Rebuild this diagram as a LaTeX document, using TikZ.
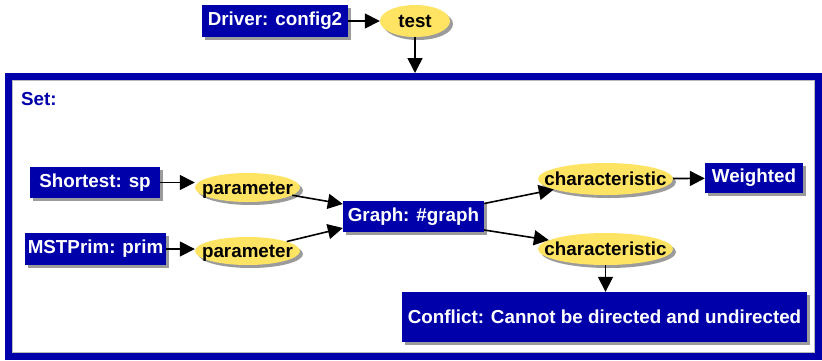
\documentclass[tikz,border=0pt]{standalone}
\usepackage{fontspec}
\setmainfont{Liberation Sans}
\usetikzlibrary{shapes.geometric,arrows.meta,shadows,calc}
\definecolor{boxblue}{RGB}{0,0,170}
\definecolor{ellyellow}{RGB}{255,228,100}
\definecolor{shadowgray}{RGB}{155,155,155}
\newcommand{\ztext}[1]{\makebox[0pt]{\raisebox{-0.36em}[0pt][0pt]{#1}}}
\begin{document}
\begin{tikzpicture}[x=1pt,y=-1pt,
  lbl/.style={font=\bfseries\fontsize{18.8}{20}\selectfont},
  myshadow/.style={drop shadow={shadow xshift=3pt, shadow yshift=-3pt, fill=shadowgray, opacity=1}},
  bluebox/.style={lbl, rectangle, fill=boxblue, text=white, inner sep=0pt, myshadow},
  yellipse/.style={lbl, ellipse, fill=ellyellow, text=black, inner sep=0pt, myshadow},
  conn/.style={line width=1.6pt, black, -{Triangle[length=15pt,width=15pt]}},
  container/.style={rectangle, draw=boxblue, line width=7pt, fill=white, inner sep=0pt}
]
\useasboundingbox (0,0) rectangle (822,360);
\fill[white] (0,0) rectangle (822,360);

% container
\node[container, minimum width=810pt, minimum height=280pt] (setbox) at (413.5,216.5) {};
\draw[shadowgray!70, line width=1pt] ($(setbox.north west)+(7.5,7.5)$) rectangle ($(setbox.south east)+(-7.5,-7.5)$);
\node[lbl, text=boxblue, anchor=west, inner sep=0pt] (setlbl) at (21,99) {Set:};

% top nodes
\node[bluebox, minimum width=146pt, minimum height=32pt] (driver) at (275,21) {Driver: config2};
\node[yellipse, minimum width=70pt, minimum height=32pt] (test) at (415,21) {\ztext{test}};

% left nodes
\node[bluebox, minimum width=130pt, minimum height=31pt] (shortest) at (95,182.5) {Shortest: sp};
\node[bluebox, minimum width=141pt, minimum height=32pt] (mst) at (95.5,249) {MSTPrim: prim};
\node[yellipse, minimum width=105pt, minimum height=29pt] (p1) at (247.5,187.5) {\ztext{parameter}};
\node[yellipse, minimum width=105pt, minimum height=28pt] (p2) at (247.5,251) {\ztext{parameter}};

% middle
\node[bluebox, minimum width=141pt, minimum height=31pt] (graph) at (413.5,216.5) {Graph: \#graph};

% right
\node[yellipse, minimum width=135pt, minimum height=32pt] (c1) at (605.5,179) {\ztext{characteristic}};
\node[yellipse, minimum width=135pt, minimum height=32pt] (c2) at (605.5,249) {\ztext{characteristic}};
\node[bluebox, minimum width=98pt, minimum height=30pt] (weighted) at (754,178) {Weighted};
\node[bluebox, minimum width=405pt, minimum height=50pt] (conflict) at (604.5,317) {Conflict: Cannot be directed and undirected};

\coordinate (gin1) at ($(graph.west)+(0,-12.5)$);
\coordinate (gin2) at ($(graph.west)+(0,11.5)$);
\coordinate (gout1) at ($(graph.east)+(0,-13)$);
\coordinate (gout2) at ($(graph.east)+(0,13.5)$);

% connectors
\draw[conn] (driver) -- (test);
\draw[conn] (test.south) -- (test.south |- setbox.north);
\draw[conn] (shortest) -- (p1.west |- shortest);
\draw[conn] (mst) -- (p2.west |- mst);
\draw[conn] (p1) -- (gin1);
\draw[conn] (p2) -- (gin2);
\draw[conn] (gout1) -- (c1);
\draw[conn] (gout2) -- (c2);
\draw[conn] (c1) -- (weighted);
\draw[conn] (c2.south) -- (c2.south |- conflict.north);
\end{tikzpicture}
\end{document}
